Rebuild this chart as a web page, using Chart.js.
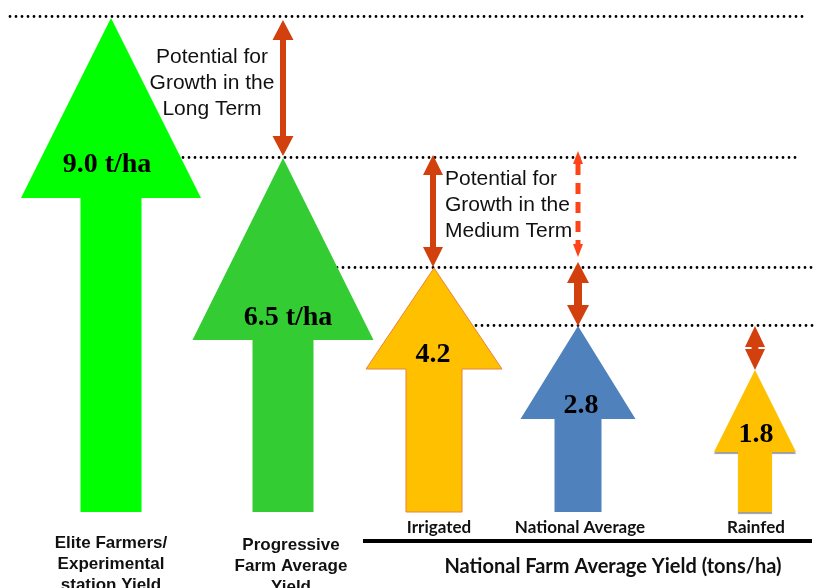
<!DOCTYPE html>
<html>
<head>
<meta charset="utf-8">
<script src="https://cdn.jsdelivr.net/npm/chart.js@4.4.1/dist/chart.umd.min.js"></script>
<style>
  html, body { margin: 0; padding: 0; background: #ffffff; }
  #wrap { width: 817px; height: 588px; position: relative; }
  canvas { display: block; }
</style>
</head>
<body>
<div id="wrap"><canvas id="c" width="817" height="588"></canvas></div>
<script>
// ---------------- DATA ----------------
const categories = [
  ['Elite Farmers/', 'Experimental', 'station Yield'],
  ['Progressive', 'Farm Average', 'Yield'],
  'Irrigated',
  'National Average',
  'Rainfed'
];
const yields = [9.0, 6.5, 4.2, 2.8, 1.8];              // t/ha
const yieldLabels = ['9.0 t/ha', '6.5 t/ha', '4.2', '2.8', '1.8'];
const groupTitle = 'National Farm Average Yield (tons/ha)';
const longTermText = ['Potential for', 'Growth in the', 'Long Term'];
const mediumTermText = ['Potential for', 'Growth in the', 'Medium Term'];

// ---------------- SCALE LAYOUT (the infographic is not drawn to scale) ----------------
const scaleLayout = {
  xSpacing: [172, 151, 144, 177],                 // relative gaps between category centres
  yStops:   [0, 1.8, 2.8, 4.2, 6.5, 9.0],          // values
  yDrawn:   [0, 0.2874, 0.3765, 0.4939, 0.7166, 1] // drawn fraction of the axis height
};

class WeightedCategoryScale extends Chart.CategoryScale {
  static id = 'weightedCategory';
  static defaults = Chart.CategoryScale.defaults;
  getPixelForValue(value) {
    if (typeof value !== 'number') value = this.parse(value);
    if (value === null || isNaN(value)) return NaN;
    const w = scaleLayout.xSpacing;
    const total = w.reduce((a, b) => a + b, 0);
    const i = Math.floor(value);
    let acc = 0;
    for (let k = 0; k < i && k < w.length; k++) acc += w[k];
    const frac = value - i;
    if (frac && i < w.length) acc += frac * w[i];
    return this.getPixelForDecimal(acc / total);
  }
}
class PiecewiseScale extends Chart.LinearScale {
  static id = 'piecewise';
  static defaults = Chart.LinearScale.defaults;
  getPixelForValue(value) {
    if (value === null || isNaN(value)) return NaN;
    const st = scaleLayout.yStops, dr = scaleLayout.yDrawn;
    let f;
    if (value <= st[0]) f = dr[0];
    else if (value >= st[st.length - 1]) f = dr[dr.length - 1];
    else {
      for (let i = 1; i < st.length; i++) {
        if (value <= st[i]) {
          const t = (value - st[i - 1]) / (st[i] - st[i - 1]);
          f = dr[i - 1] + t * (dr[i] - dr[i - 1]);
          break;
        }
      }
    }
    return this.getPixelForDecimal(f);
  }
}
Chart.register(WeightedCategoryScale, PiecewiseScale);

// ---------------- DRAWING PLUGIN ----------------
function arrowPath(ctx, x, tip, base, s) {
  const hb = tip + s.headH;
  ctx.beginPath();
  ctx.moveTo(x, tip);
  ctx.lineTo(x + s.head / 2, hb);
  ctx.lineTo(x + s.shaft / 2, hb);
  ctx.lineTo(x + s.shaft / 2, base);
  ctx.lineTo(x - s.shaft / 2, base);
  ctx.lineTo(x - s.shaft / 2, hb);
  ctx.lineTo(x - s.head / 2, hb);
  ctx.closePath();
}
function doubleArrow(ctx, x, y1, y2, s) {
  ctx.fillStyle = s.color;
  if (s.dashed) {
    ctx.beginPath();
    ctx.moveTo(x, y1); ctx.lineTo(x + s.headW / 2, y1 + s.headH); ctx.lineTo(x - s.headW / 2, y1 + s.headH);
    ctx.closePath(); ctx.fill();
    ctx.beginPath();
    ctx.moveTo(x, y2); ctx.lineTo(x + s.headW / 2, y2 - s.headH); ctx.lineTo(x - s.headW / 2, y2 - s.headH);
    ctx.closePath(); ctx.fill();
    ctx.save();
    ctx.strokeStyle = s.color;
    ctx.lineWidth = s.shaft;
    ctx.setLineDash(s.dash);
    ctx.beginPath();
    ctx.moveTo(x, y1 + s.headH); ctx.lineTo(x, y2 - s.headH);
    ctx.stroke();
    ctx.restore();
    return;
  }
  ctx.beginPath();
  ctx.moveTo(x, y1);
  ctx.lineTo(x + s.headW / 2, y1 + s.headH);
  ctx.lineTo(x + s.shaft / 2, y1 + s.headH);
  ctx.lineTo(x + s.shaft / 2, y2 - s.headH);
  ctx.lineTo(x + s.headW / 2, y2 - s.headH);
  ctx.lineTo(x, y2);
  ctx.lineTo(x - s.headW / 2, y2 - s.headH);
  ctx.lineTo(x - s.shaft / 2, y2 - s.headH);
  ctx.lineTo(x - s.shaft / 2, y1 + s.headH);
  ctx.lineTo(x - s.headW / 2, y1 + s.headH);
  ctx.closePath();
  ctx.fill();
}

const infographicPlugin = {
  id: 'infographic',
  afterDatasetsDraw(chart, args, opts) {
    const ctx = chart.ctx;
    const meta = chart.getDatasetMeta(0);
    const yScale = chart.scales.y;
    const level = i => yScale.getPixelForValue(yields[i]);
    const cx = i => meta.data[i].x;

    // dotted reference lines at each yield level
    ctx.save();
    ctx.strokeStyle = '#000000';
    ctx.lineWidth = 2.8;
    ctx.lineCap = 'round';
    ctx.setLineDash([0, 6]);
    opts.levelLines.forEach(l => {
      const y = Math.round(level(l.level)) - 0.5 + (l.dy || 0);
      const xs = l.level === 0 ? l.startX : cx(l.level - 1);
      ctx.beginPath();
      ctx.moveTo(xs, y); ctx.lineTo(l.endX, y);
      ctx.stroke();
    });
    ctx.restore();

    // big arrows
    meta.data.forEach((bar, i) => {
      const s = opts.arrows[i];
      ctx.save();
      if (s.shadow) {
        ctx.shadowColor = 'rgba(0,0,0,0.38)';
        ctx.shadowOffsetY = 2;
        ctx.shadowOffsetX = 0;
        ctx.shadowBlur = 1;
      }
      arrowPath(ctx, bar.x, bar.y, bar.base, s);
      ctx.fillStyle = s.color;
      ctx.fill();
      ctx.restore();
      if (s.stroke) {
        ctx.save();
        arrowPath(ctx, bar.x, bar.y, bar.base, s);
        ctx.strokeStyle = s.stroke;
        ctx.lineWidth = 1;
        ctx.stroke();
        ctx.restore();
      }
      // value label
      ctx.save();
      ctx.fillStyle = '#000000';
      ctx.font = 'bold 28px "Liberation Serif", "Times New Roman", serif';
      ctx.textAlign = 'center';
      ctx.textBaseline = 'alphabetic';
      ctx.fillText(yieldLabels[i], bar.x + s.labelDx, bar.y + s.headH + s.labelDy);
      ctx.restore();
    });

    // growth-potential arrows between levels
    opts.growth.forEach(g => {
      const x = cx(g.cat) + (g.dx || 0);
      const y1 = level(g.from) + g.dyTop;
      const y2 = level(g.to) + g.dyBot;
      doubleArrow(ctx, x, y1, y2, g);
    });

    // annotation texts
    ctx.save();
    ctx.fillStyle = '#111111';
    ctx.font = '21px "Liberation Sans", Arial, sans-serif';
    ctx.textBaseline = 'alphabetic';
    ctx.textAlign = 'center';
    longTermText.forEach((t, k) => ctx.fillText(t, cx(1) - 71, level(0) + 45 + k * 26));
    ctx.textAlign = 'left';
    mediumTermText.forEach((t, k) => ctx.fillText(t, cx(2) + 11, level(1) + 27 + k * 26));
    ctx.restore();

    // category labels
    const base = meta.data[0].base;
    ctx.save();
    ctx.fillStyle = '#111111';
    ctx.textAlign = 'center';
    ctx.textBaseline = 'alphabetic';
    categories.forEach((c, i) => {
      const L = opts.catLabels[i];
      ctx.font = L.font;
      const lines = Array.isArray(c) ? c : [c];
      lines.forEach((t, k) => ctx.fillText(t, cx(i) + L.dx, base + L.dy + k * 21));
    });
    // group line & title
    ctx.fillStyle = '#000000';
    ctx.fillRect(363, base + 27, 449, 4);
    ctx.fillStyle = '#111111';
    ctx.font = 'bold 20px Lato, "Open Sans", sans-serif';
    ctx.fillText(groupTitle, 613, base + 61);
    ctx.restore();
  }
};

// ---------------- CHART ----------------
new Chart(document.getElementById('c'), {
  type: 'bar',
  data: {
    labels: categories,
    datasets: [{
      label: 'Yield (t/ha)',
      data: yields,
      backgroundColor: 'rgba(0,0,0,0)',
      borderWidth: 0
    }]
  },
  options: {
    responsive: false,
    animation: false,
    events: [],
    layout: { padding: { left: 111, right: 62, top: 18, bottom: 76 } },
    scales: {
      x: { type: 'weightedCategory', offset: false, display: false },
      y: { type: 'piecewise', min: 0, max: 9, display: false }
    },
    plugins: {
      legend: { display: false },
      tooltip: { enabled: false },
      infographic: {
        levelLines: [
          { level: 0, startX: 10, endX: 808, dy: -1 },
          { level: 1, endX: 800 },
          { level: 2, endX: 815 },
          { level: 3, endX: 815 }
        ],
        arrows: [
          { color: '#00FF00', head: 180, shaft: 61, headH: 180, labelDx: -4, labelDy: -26 },
          { color: '#33CC33', head: 181, shaft: 61, headH: 182, labelDx: 5, labelDy: -15 },
          { color: '#FFC000', head: 136, shaft: 56, headH: 101, labelDx: -1, labelDy: -7, stroke: '#E8823C' },
          { color: '#4F81BD', head: 115, shaft: 47, headH: 93, labelDx: 3, labelDy: -6 },
          { color: '#FFC000', head: 82, shaft: 34, headH: 82, labelDx: 1, labelDy: -10, shadow: true }
        ],
        growth: [
          { cat: 1, from: 0, to: 1, dyTop: 2, dyBot: -2, shaft: 6, headW: 21, headH: 20, color: '#D2400E' },
          { cat: 2, from: 1, to: 2, dyTop: -3, dyBot: -1, dx: -1, shaft: 6, headW: 20, headH: 20, color: '#D2400E' },
          { cat: 3, from: 1, to: 2, dyTop: -7, dyBot: -11, shaft: 5, headW: 10, headH: 13, color: '#FF4318', dashed: true, dash: [11, 8] },
          { cat: 3, from: 2, to: 3, dyTop: -6, dyBot: 0, shaft: 8, headW: 22, headH: 21, color: '#D2400E' },
          { cat: 4, from: 3, to: 4, dyTop: 0, dyBot: 0, shaft: 7, headW: 20, headH: 21, color: '#D2400E' }
        ],
        catLabels: [
          { font: 'bold 17px "Liberation Sans", Arial, sans-serif', dx: 0, dy: 36 },
          { font: 'bold 17px "Liberation Sans", Arial, sans-serif', dx: 8, dy: 38 },
          { font: 'bold 17px Lato, sans-serif', dx: 5, dy: 21 },
          { font: 'bold 17px Lato, sans-serif', dx: 2, dy: 21 },
          { font: 'bold 17px Lato, sans-serif', dx: 1, dy: 21 }
        ]
      }
    }
  },
  plugins: [infographicPlugin]
});
</script>
</body>
</html>
